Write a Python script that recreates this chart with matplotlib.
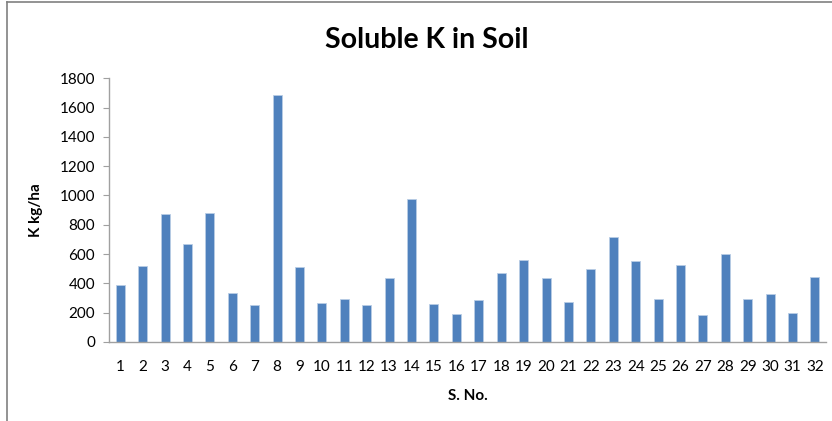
import numpy as np
import matplotlib
matplotlib.use("Agg")
from matplotlib import pyplot as plt
from matplotlib.lines import Line2D

sample_no = list(range(1, 33))
soluble_k = [390, 515, 873, 668, 880, 333, 253, 1688, 510, 264, 290, 249, 435, 977, 260, 191,
             285, 472, 556, 435, 271, 497, 716, 549, 290, 522, 180, 597, 294, 324, 198, 442]

plt.rcParams['font.family'] = ['Lato', 'DejaVu Sans']

fig = plt.figure(figsize=(8.32, 4.21), dpi=100)
ax = fig.add_axes([0.131, 0.188, 0.862, 0.626])

ax.bar(sample_no, soluble_k, width=0.4, color='#4F81BD', edgecolor='#B9CDE5', linewidth=0.6)
ax.set_xlim(0.5, 32.5)
ax.set_ylim(0, 1800)
ax.set_yticks(np.arange(0, 1801, 200))
ax.set_xticks(sample_no)
ax.set_xticklabels([str(s) for s in sample_no])

for side in ['top', 'right']:
    ax.spines[side].set_visible(False)
for side in ['left', 'bottom']:
    ax.spines[side].set_color('#A0A0A0')
    ax.spines[side].set_linewidth(1.0)
ax.tick_params(axis='y', length=4, color='#A0A0A0', labelsize=11, pad=6)
ax.tick_params(axis='x', length=0, labelsize=11, pad=13)

ax.set_xlabel('S. No.', fontsize=11, fontweight='bold', labelpad=11)
ax.set_ylabel('K kg/ha', fontsize=11, fontweight='bold', labelpad=12)
fig.text(0.513, 0.905, 'Soluble K in Soil', ha='center', va='center', fontsize=20.5, fontweight='bold')

# chart area frame (cropped: only top and left edges visible)
fig.add_artist(Line2D([0.009, 0.009], [0.0, 0.995], color='#808080', linewidth=1.2, transform=fig.transFigure))
fig.add_artist(Line2D([0.009, 1.0], [0.995, 0.995], color='#808080', linewidth=1.2, transform=fig.transFigure))

fig.savefig('out.png', dpi=100)
